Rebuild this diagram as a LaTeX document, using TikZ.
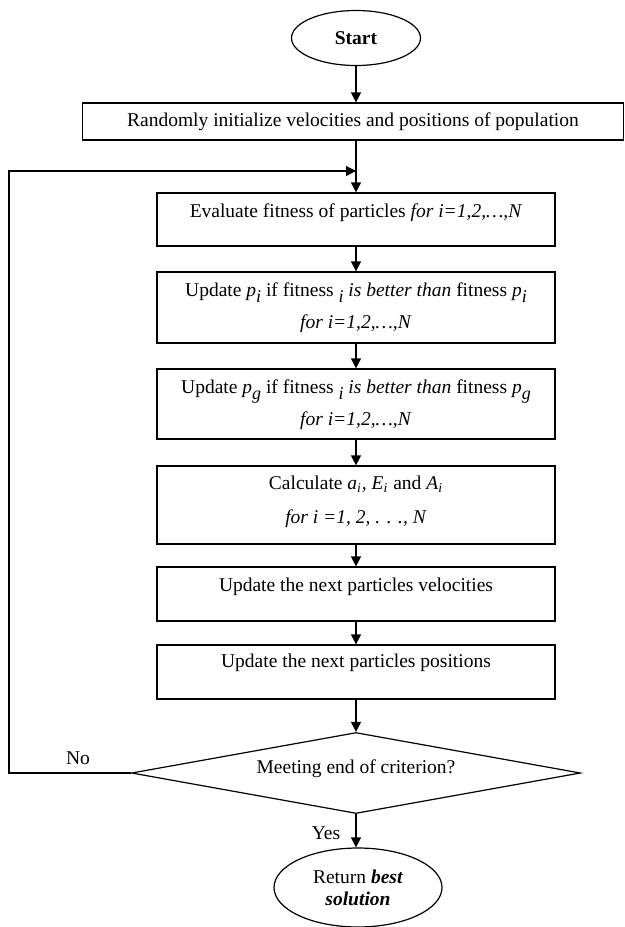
\documentclass[tikz,border=0pt]{standalone}
\usepackage{fontspec}
\setmainfont{Liberation Serif}
\usetikzlibrary{shapes.geometric,arrows.meta}
\newcommand\lowsub[1]{\raisebox{-0.6ex}{\fontsize{9}{9}\selectfont\itshape #1}}
\begin{document}
\begin{tikzpicture}[x=0.5pt,y=-0.5pt,
  font=\fontsize{9.75}{15}\selectfont,
  line width=0.6pt,
  arr/.style={-{Triangle[length=5pt,width=5pt]}},
  box/.style={draw, rectangle, minimum width=199pt, inner sep=0pt},
  term/.style={draw, ellipse, inner sep=0pt},
  txt/.style={inner sep=0pt, align=center}]
\useasboundingbox (0,0) rectangle (625,927);

% shapes
\node[term, minimum width=64.5pt, minimum height=27.5pt] (start) at (356,38) {\textbf{Start}};
\node[draw, minimum width=270.5pt, minimum height=18.5pt, inner sep=0pt] (init) at (353,121.5)
  {Randomly initialize velocities and positions of population};
\node[box, minimum height=26.5pt] (eval) at (356,219.5) {};
\node[box, minimum height=35.5pt] (pi) at (356,307.5) {};
\node[box, minimum height=35pt] (pg) at (356,404) {};
\node[box, minimum height=39pt] (calc) at (356,505) {};
\node[box, minimum height=27pt] (vel) at (356,594) {};
\node[box, minimum height=27pt] (pos) at (356,672) {};
\node[draw, diamond, aspect=5.54, minimum width=224.5pt, minimum height=40.5pt, inner sep=0pt] (dec) at (356,773) {};
\node[term, minimum width=84pt, minimum height=39.5pt] (end) at (358,887.5) {};

% texts
\node[txt] (evalt) at (356,213) {Evaluate fitness of particles \textit{for i=1,2,…,N}};
\node[txt] (pit) at (356,308) {Update \textit{p}\lowsub{i} if fitness \lowsub{i} \textit{is better than} fitness \textit{p}\lowsub{i}\\[1pt] \textit{for i=1,2,…,N}};
\node[txt] (pgt) at (356,405) {Update \textit{p}\lowsub{g} if fitness \lowsub{i} \textit{is better than} fitness \textit{p}\lowsub{g}\\[1pt] \textit{for i=1,2,…,N}};
\node[txt] (calct) at (356,501.5) {Calculate \textit{a\textsubscript{i}, E\textsubscript{i}} and \textit{A\textsubscript{i}}\\[2pt] \textit{for i =1, 2, . . ., N}};
\node[txt] (velt) at (356,587) {Update the next particles velocities};
\node[txt] (post) at (356,663) {Update the next particles positions};
\node[txt] (dect) at (356,769) {Meeting end of criterion?};
\node[txt, font=\fontsize{9.75}{11}\selectfont] (endt) at (358,888) {Return \textbf{\textit{best}}\\\textbf{\textit{solution}}};
\node[txt] (no) at (78,758) {No};
\node[txt] (yes) at (326,833) {Yes};

% connectors
\draw[arr] (start.south) -- (start.south |- init.north);
\draw[arr] (eval.north |- init.south) -- (eval.north);
\draw[arr] (eval.south) -- (pi.north);
\draw[arr] (pi.south) -- (pg.north);
\draw[arr] (pg.south) -- (calc.north);
\draw[arr] (calc.south) -- (vel.north);
\draw[arr] (vel.south) -- (pos.north);
\draw[arr] (pos.south) -- (dec.north);
\draw[arr] (dec.south) -- (dec.south |- end.north);
\coordinate (lc) at (9,773);
\coordinate (join) at (356,171);
\draw[arr] (dec.west) -- (lc) |- (join);
\end{tikzpicture}
\end{document}
